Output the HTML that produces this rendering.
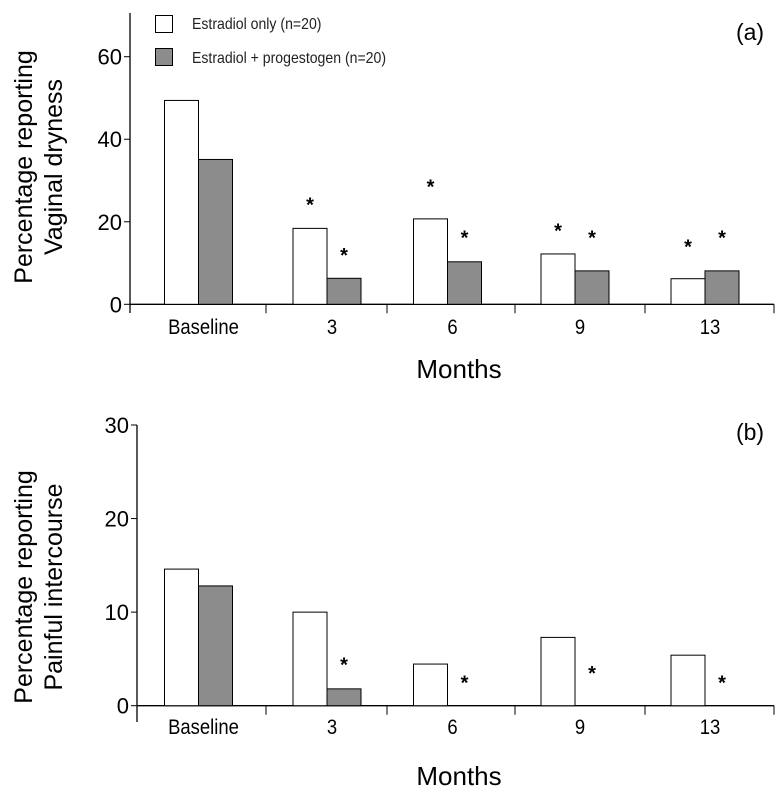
<!DOCTYPE html>
<html><head><meta charset="utf-8">
<style>
html,body{margin:0;padding:0;background:#fff;}
svg{display:block;font-family:"Liberation Sans",Arial,sans-serif;}
</style></head>
<body>
<svg id="chart" width="779" height="801" viewBox="0 0 779 801" xmlns="http://www.w3.org/2000/svg"></svg>
<script>
const categories = ["Baseline","3","6","9","13"];
const dryEstradiol = [49.4, 18.4, 20.7, 12.2, 6.2];
const dryCombined = [35.1, 6.3, 10.3, 8.1, 8.1];
const dryStarsEstradiol = [null, 24.7, 29, 18.4, 14.5];
const dryStarsCombined = [null, 12.4, 16.7, 16.7, 16.7];
const dryTicks = [0, 20, 40, 60];
const painEstradiol = [14.6, 10, 4.45, 7.3, 5.4];
const painCombined = [12.8, 1.8, 0, 0, 0];
const painStarsEstradiol = [null, null, null, null, null];
const painStarsCombined = [null, 4.6, 2.7, 3.7, 2.7];
const painTicks = [0, 10, 20, 30];

const svg = document.getElementById('chart');
const NS = "http://www.w3.org/2000/svg";
function mk(tag, attrs, parent){
  const e = document.createElementNS(NS, tag);
  for (const k in attrs) e.setAttribute(k, attrs[k]);
  (parent||svg).appendChild(e);
  return e;
}
const centers = [198.5, 327, 447.5, 575, 705];
const groupEdges = [266, 387, 515, 645, 774];
const BW = 34;

function panel(o){
  const g = mk('g', {});
  
  
  const y = v => o.y0 - (v - 0) * (o.y0 - o.yTop) / o.maxV;
  const ya = mk('line', {x1:o.ax, y1:o.axTop, x2:o.ax, y2:o.axBottom, stroke:'#000','stroke-width':1.3}, g);
  
  
  const xa = mk('line', {x1:o.ax, y1:o.y0, x2:774, y2:o.y0, stroke:'#000','stroke-width':1.3}, g);
  
  
  groupEdges.forEach(x => {
    const t = mk('line', {x1:x, y1:o.y0, x2:x, y2:o.y0+9, stroke:'#000','stroke-width':1}, g);
    
    
  });
  o.ticks.forEach(v => {
    const t = mk('line', {x1:o.ax-6, y1:y(v), x2:o.ax, y2:y(v), stroke:'#000','stroke-width':1}, g);
    
    
    const l = mk('text', {x:o.ax-8, y:y(v)+8, 'text-anchor':'end','font-size':22}, g);
    l.textContent = v;
    
    
  });
  categories.forEach((c,i) => {
    const cx = centers[i];
    const l = mk('text', {x:cx+5, y:o.catY, 'text-anchor':'middle','font-size':21, transform:`translate(${cx+5},0) scale(0.88,1) translate(${-(cx+5)},0)`}, g);
    l.textContent = c;
    
    
    const vw = o.s1[i], vg = o.s2[i];
    const b1 = mk('rect', {x:cx-BW, y:y(vw), width:BW, height:o.y0-y(vw), fill:'#fff', stroke:'#000','stroke-width':1}, g);
    
    
    if (vg > 0) {
      const b2 = mk('rect', {x:cx, y:y(vg), width:BW, height:o.y0-y(vg), fill:'#8c8c8c', stroke:'#000','stroke-width':1}, g);
      
      
    }
    [[o.st1[i], cx-BW/2],[o.st2[i], cx+BW/2]].forEach(([sv, sx]) => {
      if (sv == null) return;
      const s = mk('text', {x:sx, y:y(sv)+9, 'text-anchor':'middle','font-size':20,'font-weight':'bold'}, g);
      s.textContent = '*';
      
      
    });
  });
  const m = mk('text', {x:459, y:o.monthsY, 'text-anchor':'middle','font-size':26}, g);
  m.textContent = 'Months';
  
  
  const yt = mk('text', {transform:`translate(32,${o.titleY}) rotate(-90)`, 'text-anchor':'middle','font-size':25}, g);
  
  
  const t1 = mk('tspan', {x:0, y:0}, yt); t1.textContent = 'Percentage reporting';
  const t2 = mk('tspan', {x:0, y:30}, yt); t2.textContent = o.yTitle;
  const pl = mk('text', {x:750, y:o.labelY, 'text-anchor':'middle','font-size':23}, g);
  pl.textContent = o.label;
  
  
}

panel({name:'panel-a-vaginal-dryness', ax:130, axTop:13, axBottom:313, y0:304.3, yTop:56.7, maxV:60,
  ticks:dryTicks, s1:dryEstradiol, s2:dryCombined, st1:dryStarsEstradiol, st2:dryStarsCombined,
  catY:334, monthsY:378, titleY:167, yTitle:'Vaginal dryness', label:'(a)', labelY:40});
panel({name:'panel-b-painful-intercourse', ax:137, axTop:425, axBottom:722, y0:705.7, yTop:425, maxV:30,
  ticks:painTicks, s1:painEstradiol, s2:painCombined, st1:painStarsEstradiol, st2:painStarsCombined,
  catY:734, monthsY:785, titleY:587, yTitle:'Painful intercourse', label:'(b)', labelY:440});

const lg = mk('g', {});


const lb1 = mk('rect', {x:155.5, y:15.5, width:17, height:17, fill:'#fff', stroke:'#000','stroke-width':1}, lg);


const lt1 = mk('text', {x:192, y:29, 'font-size':16, transform:'translate(192,0) scale(0.88,1) translate(-192,0)', fill:'#222'}, lg);
lt1.textContent = 'Estradiol only (n=20)';


const lb2 = mk('rect', {x:155.5, y:48.5, width:17, height:17, fill:'#8c8c8c', stroke:'#000','stroke-width':1}, lg);


const lt2 = mk('text', {x:192, y:63, 'font-size':16, transform:'translate(192,0) scale(0.88,1) translate(-192,0)', fill:'#222'}, lg);
lt2.textContent = 'Estradiol + progestogen (n=20)';


</script>
</body></html>
